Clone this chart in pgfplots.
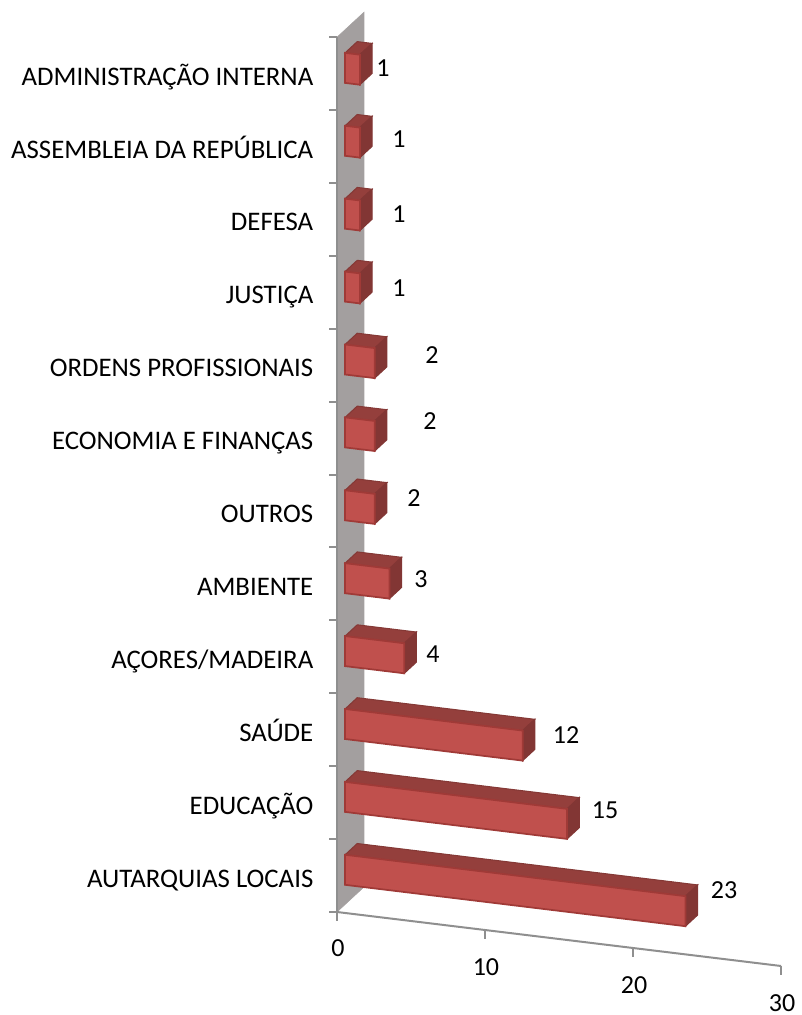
\documentclass[border=0pt]{standalone}
\usepackage{pgfplots}
\pgfplotsset{compat=1.18}
\usepackage{fontspec}
\setmainfont{Carlito}
\definecolor{wallc}{HTML}{A39F9F}
\definecolor{linec}{HTML}{8F8F8F}
\definecolor{frontc}{HTML}{C0504D}
\definecolor{frontd}{HTML}{A03A37}
\definecolor{topc}{HTML}{943F3C}
\definecolor{sidec}{HTML}{823634}
\def\u{0.75pt}
% k, value, z bottom, z top, label dx, label dy (pixels)
\newcommand\BarRow[7]{%
  \addplot3[fill=topc,draw=topc!90!black,line width=0.8pt] coordinates {(0,0.3,#4) (#2,0.3,#4) (#2,0.75,#4) (0,0.75,#4)} --cycle;
  \addplot3[fill=sidec,draw=sidec,line width=0.8pt] coordinates {(#2,0.3,#3) (#2,0.75,#3) (#2,0.75,#4) (#2,0.3,#4)} --cycle;
  \addplot3[fill=frontc,draw=frontd,line width=1.3pt] coordinates {(0,0.3,#3) (#2,0.3,#3) (#2,0.3,#4) (0,0.3,#4)} --cycle;
  \node[font=\fontsize{19.5}{19.5}\selectfont,anchor=center] at (axis cs:#2,0,#1.5) [xshift=#5*\u,yshift=#6*\u] {#2};
  \node[font=\fontsize{20.1}{20.1}\selectfont,anchor=base east] at (axis cs:0,0,#1.5) [xshift=-19*\u,yshift=-11.5*\u] {#7};
}
\begin{document}
\begin{tikzpicture}
\begin{axis}[
  x={(14.8*\u,-1.8*\u)},y={(27*\u,25*\u)},z={(0,72.9*\u)},
  xmin=0,xmax=30,ymin=0,ymax=1,zmin=0,zmax=12,
  hide axis,clip=false,no marks]
\coordinate (O) at (axis cs:0,0,0);
\addplot3[fill=wallc,draw=wallc] coordinates {(0,0,0) (0,1,0) (0,1,12) (0,0,12)} --cycle;
% value axis
\addplot3[draw=linec,line width=1.5pt] coordinates {(0,0,0) (30,0,0)};
\addplot3[draw=linec,line width=1.5pt] coordinates {(0,0,0) (0,0,12)};
\foreach \t in {0,10,20,30}{\edef\tmp{\noexpand\draw[linec,line width=1.5pt] (axis cs:\t,0,0) -- ++(0,-9*\u);}\tmp}
\foreach \k in {0,...,12}{\edef\tmp{\noexpand\draw[linec,line width=1.5pt] (axis cs:0,0,\k) -- ++(-8*\u,0);}\tmp}
\node[font=\fontsize{19.5}{19.5}\selectfont] at (axis cs:0,0,0) [xshift=1*\u,yshift=-36*\u] {0};
\node[font=\fontsize{19.5}{19.5}\selectfont] at (axis cs:10,0,0) [xshift=1*\u,yshift=-37*\u] {10};
\node[font=\fontsize{19.5}{19.5}\selectfont] at (axis cs:20,0,0) [xshift=1*\u,yshift=-37*\u] {20};
\node[font=\fontsize{19.5}{19.5}\selectfont,inner sep=0pt] at (axis cs:30,0,0) [xshift=1*\u,yshift=-37*\u] {30};
\BarRow{0}{23}{0.27}{0.682}{46.6}{27}{AUTARQUIAS LOCAIS}
\BarRow{1}{15}{1.27}{1.682}{46}{19.6}{EDUCAÇÃO}
\BarRow{2}{12}{2.27}{2.682}{51.4}{16.4}{SAÚDE}
\BarRow{3}{4}{3.27}{3.682}{36.8}{10}{AÇORES/MADEIRA}
\BarRow{4}{3}{4.27}{4.682}{39.6}{10.4}{AMBIENTE}
\BarRow{5}{2}{5.27}{5.682}{47.4}{16.6}{OUTROS}
\BarRow{6}{2}{6.27}{6.682}{63.4}{20.8}{ECONOMIA E FINANÇAS}
\BarRow{7}{2}{7.27}{7.682}{65.4}{13.8}{ORDENS PROFISSIONAIS}
\BarRow{8}{1}{8.27}{8.682}{47.2}{6.2}{JUSTIÇA}
\BarRow{9}{1}{9.27}{9.682}{47.2}{7.2}{DEFESA}
\BarRow{10}{1}{10.27}{10.682}{47.2}{9.4}{ASSEMBLEIA DA REPÚBLICA}
\BarRow{11}{1}{11.27}{11.682}{31.2}{7.4}{ADMINISTRAÇÃO INTERNA}
\end{axis}
\pgfresetboundingbox
\useasboundingbox ([shift={(-337*\u,-103*\u)}]O) rectangle ([shift={(464*\u,912*\u)}]O);
\end{tikzpicture}
\end{document}
